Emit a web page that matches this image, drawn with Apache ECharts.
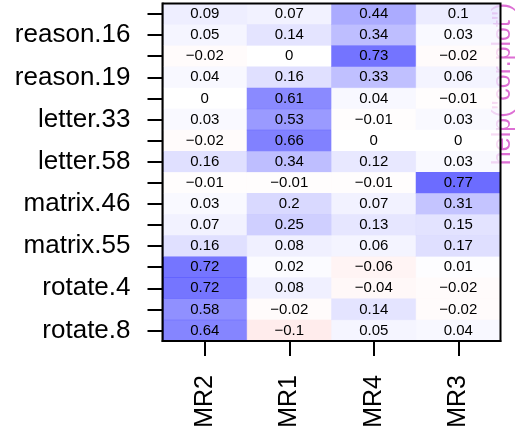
<!DOCTYPE html>
<html>
<head>
<meta charset="utf-8">
<script src="https://cdn.jsdelivr.net/npm/echarts@6/dist/echarts.min.js"></script>
<style>
html,body{margin:0;padding:0;background:#fff;}
#chart{width:522px;height:432px;}
</style>
</head>
<body>
<div id="chart"></div>
<script>
// Rows, top to bottom
var rows = ['reason.4','reason.16','reason.17','reason.19','letter.7','letter.33','letter.34','letter.58',
            'matrix.45','matrix.46','matrix.47','matrix.55','rotate.3','rotate.4','rotate.6','rotate.8'];
var cols = ['MR2','MR1','MR4','MR3'];
// Loadings per factor column (rows top to bottom)
var mr2 = [0.09, 0.05, -0.02, 0.04, 0, 0.03, -0.02, 0.16, -0.01, 0.03, 0.07, 0.16, 0.72, 0.72, 0.58, 0.64];
var mr1 = [0.07, 0.14, 0, 0.16, 0.61, 0.53, 0.66, 0.34, -0.01, 0.2, 0.25, 0.08, 0.02, 0.08, -0.02, -0.1];
var mr4 = [0.44, 0.34, 0.73, 0.33, 0.04, -0.01, 0, 0.12, -0.01, 0.07, 0.13, 0.06, -0.06, -0.04, 0.14, 0.05];
var mr3 = [0.1, 0.03, -0.02, 0.06, -0.01, 0.03, 0, 0.03, 0.77, 0.31, 0.15, 0.17, 0.01, -0.02, -0.02, 0.04];

var columns = [mr2, mr1, mr4, mr3];
var data = [];
columns.forEach(function (col, ci) {
  col.forEach(function (v, ri) { data.push([ci, ri, v]); });
});

var FONT = '"Liberation Sans", Arial, Helvetica, sans-serif';
var chart = echarts.init(document.getElementById('chart'), null, {renderer: 'canvas'});
chart.setOption({
  animation: false,
  backgroundColor: '#ffffff',
  grid: {left: 162.5, top: 3.5, right: 21.5, bottom: 91, show: true, borderColor: '#000', borderWidth: 2, backgroundColor: 'transparent', z: 5},
  xAxis: {
    type: 'category', data: cols, position: 'bottom',
    axisLine: {show: true, lineStyle: {color: '#000', width: 2}},
    axisTick: {show: true, alignWithLabel: true, interval: 0, length: 15, lineStyle: {color: '#000', width: 2}},
    axisLabel: {rotate: 90, margin: 34, fontSize: 25, color: '#000', fontFamily: FONT, interval: 0},
    splitLine: {show: false}
  },
  yAxis: {
    type: 'category', data: rows, inverse: true,
    axisLine: {show: true, lineStyle: {color: '#000', width: 2}},
    axisTick: {show: true, alignWithLabel: true, interval: 0, length: 15, lineStyle: {color: '#000', width: 2}},
    axisLabel: {margin: 32, fontSize: 26, color: '#000', fontFamily: FONT,
      interval: function (idx) { return idx % 2 === 1; }},
    splitLine: {show: false}
  },
  visualMap: {
    show: false, type: 'continuous', min: -1, max: 1, dimension: 2, calculable: false,
    inRange: {color: ['rgba(255,0,0,0.75)', 'rgba(255,255,255,0.75)', 'rgba(0,0,255,0.75)']}
  },
  graphic: [{
    type: 'text', z: -10, zlevel: 0,
    x: 503, y: 84, rotation: Math.PI / 2,
    style: {text: 'help("cor.plot")', fontSize: 25, fontFamily: FONT, fill: '#dd6fd4',
            align: 'center', verticalAlign: 'middle'}
  }],
  series: [{
    type: 'heatmap', data: data, z: 2,
    label: {show: true, fontSize: 15, color: '#000', fontFamily: FONT,
      formatter: function (p) { return String(p.value[2]).replace('-', '\u2212'); }},
    itemStyle: {borderWidth: 0},
    emphasis: {disabled: true}
  }]
});
</script>
</body>
</html>
